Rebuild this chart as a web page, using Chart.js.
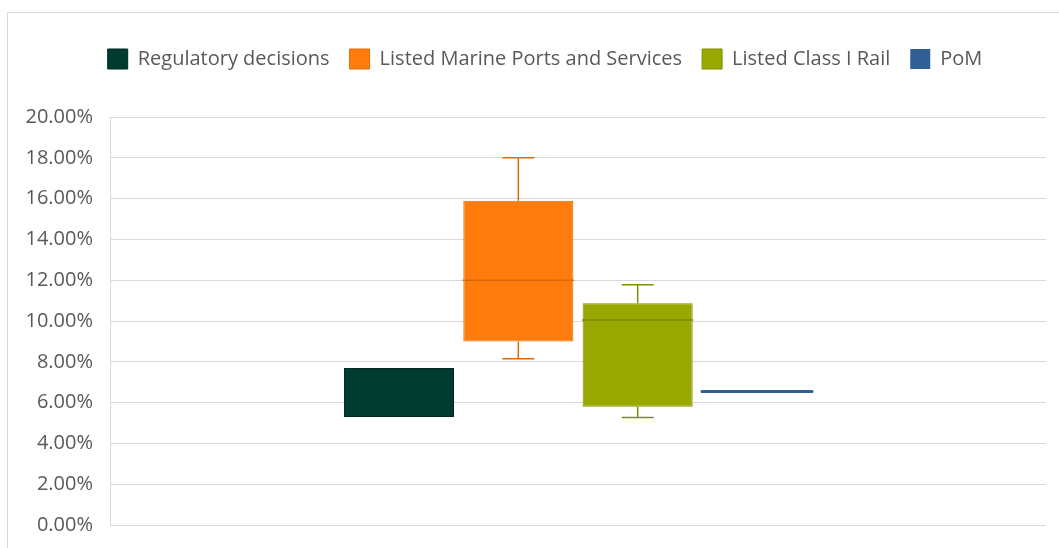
<!DOCTYPE html>
<html>
<head>
<meta charset="utf-8">
<script src="https://cdn.jsdelivr.net/npm/chart.js@4.4.1/dist/chart.umd.min.js"></script>
<style>
  html, body { margin: 0; padding: 0; background: #fff; }
  #wrap { position: relative; width: 1059px; height: 548px; }
  #frame {
    position: absolute; left: 7px; top: 12px; right: 0; bottom: 0;
    border-top: 1px solid #d9d9d9; border-left: 1px solid #d9d9d9;
    pointer-events: none;
  }
</style>
</head>
<body>
<div id="wrap">
  <canvas id="chart" width="1059" height="548"></canvas>
  <div id="frame"></div>
</div>
<script>
// box plot values, in percent
const categories = [''];
const seriesNames = ['Regulatory decisions', 'Listed Marine Ports and Services', 'Listed Class I Rail', 'PoM'];
const q1 = [5.3, 9.0, 5.8, 6.54];
const q3 = [7.7, 15.9, 10.87, 6.54];
const medians = [null, 12.0, 10.05, 6.54];
const whiskerLow = [null, 8.15, 5.27, null];
const whiskerHigh = [null, 18.0, 11.78, null];
const yTicks = [0, 2, 4, 6, 8, 10, 12, 14, 16, 18, 20];

const fills = ['#003b2f', '#ff7c0c', '#98a800', '#2f5f94'];
const strokes = ['#00281f', '#e06a02', '#7f8f00', '#2f5f94'];
const medianColors = ['#00281f', '#d9680a', '#7d8b00', '#2f5f94'];

const textColor = '#595959';
const font = "'Open Sans', sans-serif";

// whiskers and median lines on top of the floating bars
const boxExtras = {
  id: 'boxExtras',
  afterDatasetsDraw(chart) {
    const ctx = chart.ctx;
    const y = chart.scales.y;
    chart.data.datasets.forEach((ds, i) => {
      const bar = chart.getDatasetMeta(i).data[0];
      if (!bar) return;
      const x = bar.x;
      const half = bar.width / 2;
      ctx.save();
      ctx.strokeStyle = strokes[i];
      ctx.lineWidth = 1.5;
      const cap = 16;
      if (whiskerHigh[i] != null) {
        const top = y.getPixelForValue(whiskerHigh[i]);
        ctx.beginPath();
        ctx.moveTo(x, y.getPixelForValue(q3[i]));
        ctx.lineTo(x, top);
        ctx.moveTo(x - cap, top);
        ctx.lineTo(x + cap, top);
        ctx.stroke();
      }
      if (whiskerLow[i] != null) {
        const bot = y.getPixelForValue(whiskerLow[i]);
        ctx.beginPath();
        ctx.moveTo(x, y.getPixelForValue(q1[i]));
        ctx.lineTo(x, bot);
        ctx.moveTo(x - cap, bot);
        ctx.lineTo(x + cap, bot);
        ctx.stroke();
      }
      if (medians[i] != null) {
        const my = y.getPixelForValue(medians[i]);
        ctx.strokeStyle = medianColors[i];
        ctx.lineWidth = q1[i] === q3[i] ? 3 : 1.5;
        ctx.lineCap = 'round';
        ctx.beginPath();
        ctx.moveTo(x - half, my);
        ctx.lineTo(x + half, my);
        ctx.stroke();
      }
      ctx.restore();
    });
  }
};

// extra room under the legend, and nudge it a little to the right
const legendGap = {
  id: 'legendGap',
  beforeInit(chart) {
    const fit = chart.legend.fit;
    chart.legend.fit = function () {
      fit.bind(chart.legend)();
      this.height += 38;
    };
  },
  afterLayout(chart) {
    chart.legend.left += 22;
    chart.legend.right += 22;
  }
};

const ctx = document.getElementById('chart').getContext('2d');
const myChart = new Chart(ctx, {
  type: 'bar',
  data: {
    labels: categories,
    datasets: seriesNames.map((name, i) => ({
      label: name,
      data: [[q1[i], q3[i]]],
      backgroundColor: fills[i],
      borderColor: strokes[i],
      borderWidth: q1[i] === q3[i] ? 0 : 1,
      borderSkipped: false,
      categoryPercentage: 0.51,
      barPercentage: 0.922
    }))
  },
  options: {
    responsive: false,
    animation: false,
    layout: { padding: { top: 29, left: 0, right: 13, bottom: 23 } },
    plugins: {
      tooltip: { enabled: false },
      legend: {
        display: true,
        position: 'top',
        labels: {
          color: textColor,
          font: { family: font, size: 20 },
          boxWidth: 20,
          boxHeight: 20,
          padding: 20
        }
      }
    },
    scales: {
      x: {
        display: false
      },
      y: {
        min: 0,
        max: 20,
        afterFit: (s) => {
          s.width = 110;
          s.paddingBottom = 0;
        },
        afterBuildTicks: (s) => { s.ticks = yTicks.map(v => ({ value: v })); },
        ticks: {
          color: textColor,
          font: { family: font, size: 20 },
          padding: 17,
          callback: (v) => v.toFixed(2) + '%'
        },
        grid: { color: '#d9d9d9', lineWidth: 1, drawTicks: false },
        border: { display: true, color: '#d9d9d9' }
      }
    }
  },
  plugins: [boxExtras, legendGap]
});
</script>
</body>
</html>
